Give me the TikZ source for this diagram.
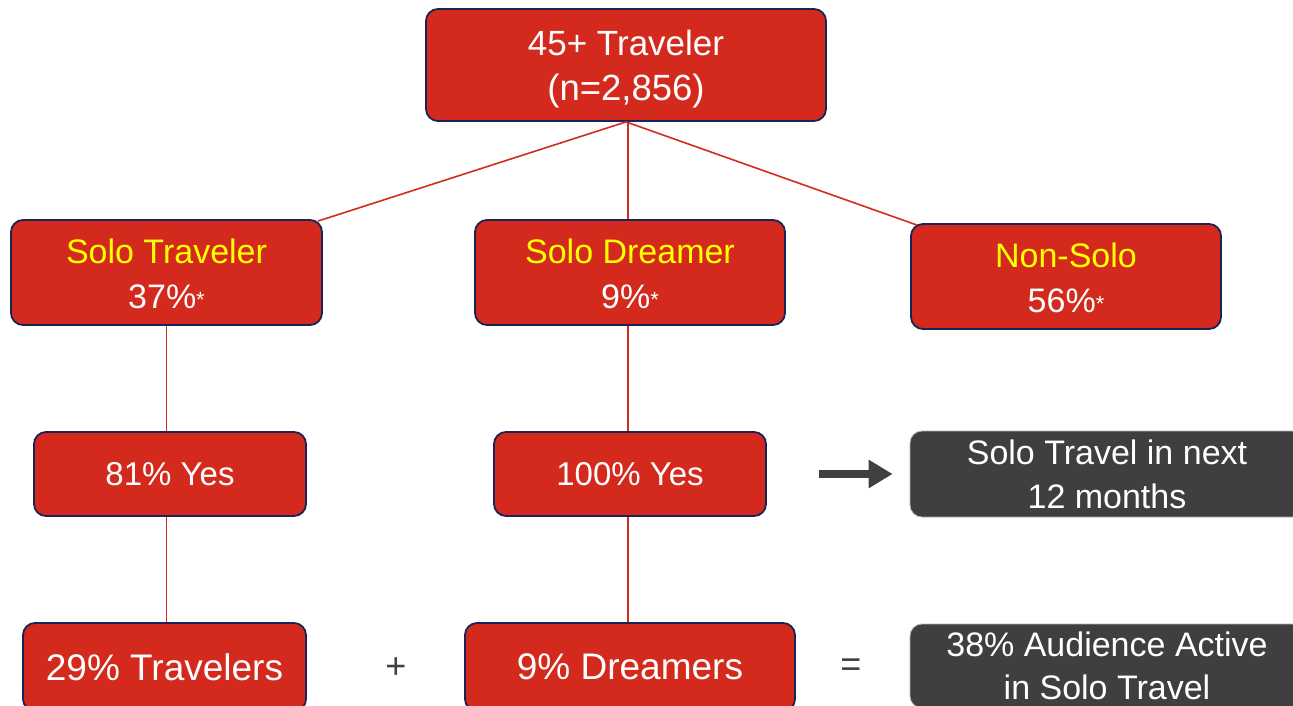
\documentclass[tikz,border=0pt]{standalone}
\usepackage{fontspec}
\setmainfont{Liberation Sans}
\usetikzlibrary{arrows.meta,calc}
\definecolor{boxred}{RGB}{212,42,30}
\definecolor{navy}{RGB}{22,36,88}
\definecolor{boxgray}{RGB}{63,63,65}
\definecolor{linered}{RGB}{210,44,32}
\definecolor{arrowgray}{RGB}{64,64,64}
\definecolor{hiyellow}{RGB}{255,255,0}
\newcommand{\astmark}{\raisebox{1pt}{\fontsize{22}{22}\selectfont*}}
\begin{document}
\begin{tikzpicture}[x=1pt,y=-1pt,
  redbox/.style={draw=navy, line width=1.8pt, fill=boxred, rounded corners=12pt,
    text=white, align=center, inner sep=0pt},
  graybox/.style={draw=gray!60, line width=0.8pt, fill=boxgray, rounded corners=12pt,
    text=white, align=center, inner sep=0pt},
  link/.style={draw=linered, line width=1.6pt},
  sym/.style={text=arrowgray, font=\fontsize{36}{36}\selectfont, inner sep=0pt}]
\useasboundingbox (0,0) rectangle (1293,706);
\clip (0,0) rectangle (1293,706);

\node[redbox, minimum width=400pt, minimum height=112pt, font=\fontsize{35}{45}\selectfont]
  (top) at (626,65) {\rule{0pt}{34pt}45+ Traveler\\{\fontsize{36.5}{45}\selectfont(n=2,856)}};

\node[redbox, minimum width=311pt, minimum height=105pt, font=\fontsize{34}{45}\selectfont]
  (st) at (166.5,272.5) {\rule{0pt}{27pt}\textcolor{hiyellow}{Solo Traveler}\\37\%\astmark};
\node[redbox, minimum width=310pt, minimum height=105pt, font=\fontsize{34}{45}\selectfont]
  (sd) at (630,272.5) {\rule{0pt}{27pt}\textcolor{hiyellow}{Solo Dreamer}\\9\%\astmark};
\node[redbox, minimum width=310pt, minimum height=105pt, font=\fontsize{34}{45}\selectfont]
  (ns) at (1066,276.5) {\rule{0pt}{27pt}\textcolor{hiyellow}{Non-Solo}\\56\%\astmark};

\node[redbox, minimum width=272pt, minimum height=84pt, font=\fontsize{33}{40}\selectfont]
  (y81) at (170,474) {81\% Yes};
\node[redbox, minimum width=272pt, minimum height=84pt, font=\fontsize{33}{40}\selectfont]
  (y100) at (630,474) {100\% Yes};
\node[graybox, minimum width=394pt, minimum height=86pt, font=\fontsize{34}{44}\selectfont]
  (g1) at (1107,474) {Solo Travel in next\\12 months};

\node[redbox, minimum width=283pt, minimum height=88pt, font=\fontsize{37}{40}\selectfont]
  (tr) at (164.5,667) {29\% Travelers};
\node[redbox, minimum width=330pt, minimum height=88pt, font=\fontsize{37}{40}\selectfont]
  (dr) at (630,667) {9\% Dreamers};
\node[graybox, minimum width=394pt, minimum height=84pt, font=\fontsize{34}{43}\selectfont]
  (g2) at (1107,666) {38\% Audience Active\\in Solo Travel};

\node[sym] (plus) at (396,668) {+};
\node[sym] (eq) at (851,668) {=};

\draw[link] (top.south) -- ([xshift=-5pt,yshift=-2pt]st.north east);
\draw[link] ([xshift=2pt]top.south) -- ([xshift=-2pt]sd.north);
\draw[link] (top.south) -- ([xshift=7pt,yshift=-2pt]ns.north west);
\draw[link] (st.south) -- (st.south |- y81.north);
\draw[link] (st.south |- y81.south) -- (st.south |- tr.north);
\draw[link] ([xshift=-2pt]sd.south) -- ([xshift=-2pt]y100.north);
\draw[link] ([xshift=-2pt]y100.south) -- ([xshift=-2pt]dr.north);

\draw[arrowgray, line width=8pt, -{Triangle[length=24pt,width=27pt]}]
  ([xshift=52pt]y100.east) -- ([xshift=-17pt]g1.west);
\end{tikzpicture}
\end{document}
